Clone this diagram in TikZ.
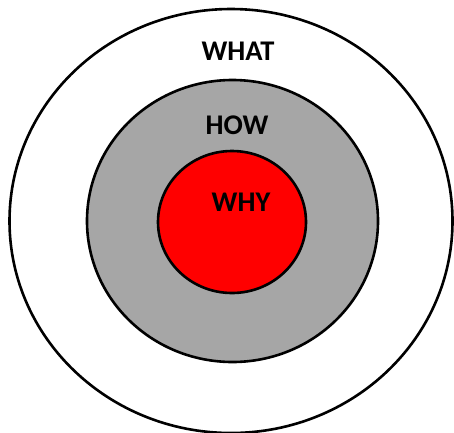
\documentclass[tikz,border=0pt]{standalone}
\usepackage{fontspec}
\setmainfont{Carlito}
\begin{document}
\begin{tikzpicture}[x=1pt,y=-1pt,
  ring/.style={draw=black,line width=2.6pt},
  lbl/.style={font=\fontsize{28.5}{28.5}\selectfont\bfseries,inner sep=0pt,anchor=base}]
\useasboundingbox (0,0) rectangle (454,432);
\fill[white] (0,0) rectangle (454,432);
\draw[ring,fill=white] (231,221) ellipse [x radius=221.5,y radius=212];
\draw[ring,fill={rgb,255:red,166;green,166;blue,166}] (232.5,221) ellipse [x radius=145.5,y radius=141];
\draw[ring,fill={rgb,255:red,255;green,0;blue,0}] (232,222) ellipse [x radius=74,y radius=71];
\node[lbl] (what) at (238,60) {WHAT};
\node[lbl] (how) at (237,134) {HOW};
\node[lbl] (why) at (241,211) {WHY};
\end{tikzpicture}
\end{document}
